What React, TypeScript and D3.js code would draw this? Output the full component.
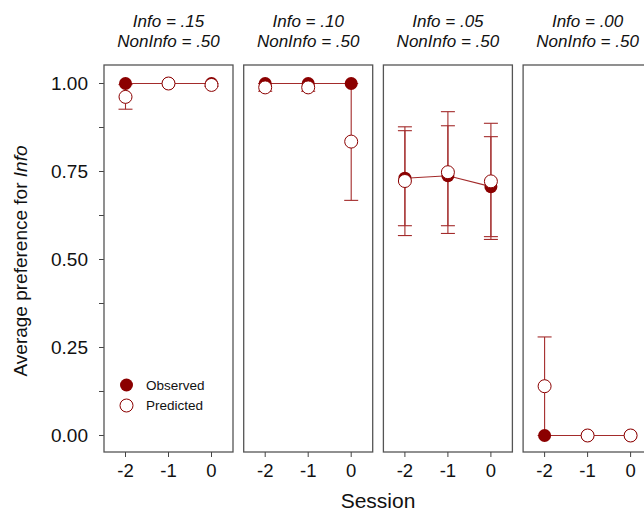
import React from "react";
import * as d3 from "d3";

const sessions = [-2, -1, 0];
const infoLabels = ["Info = .15", "Info = .10", "Info = .05", "Info = .00"];
const nonInfoLabels = ["NonInfo = .50", "NonInfo = .50", "NonInfo = .50", "NonInfo = .50"];

const observed = [
  [1.0, 1.0, 1.0],
  [1.0, 1.0, 1.0],
  [0.731, 0.738, 0.707],
  [0.0, 0.0, 0.0],
];
const observedLo = [
  [1.0, 1.0, 1.0],
  [1.0, 1.0, 1.0],
  [0.596, 0.596, 0.565],
  [0.0, 0.0, 0.0],
];
const observedHi = [
  [1.0, 1.0, 1.0],
  [1.0, 1.0, 1.0],
  [0.866, 0.88, 0.849],
  [0.0, 0.0, 0.0],
];
const predicted = [
  [0.962, 1.0, 0.996],
  [0.989, 0.989, 0.835],
  [0.723, 0.748, 0.722],
  [0.14, 0.0, 0.0],
];
const predictedLo = [
  [0.927, 1.0, 0.992],
  [0.978, 0.978, 0.668],
  [0.568, 0.574, 0.557],
  [0.0, 0.0, 0.0],
];
const predictedHi = [
  [0.997, 1.0, 1.0],
  [1.0, 1.0, 1.0],
  [0.877, 0.92, 0.887],
  [0.28, 0.0, 0.0],
];
const yTicks = [0, 0.125, 0.25, 0.375, 0.5, 0.625, 0.75, 0.875, 1.0];
const yLabels = ["0.00", "", "0.25", "", "0.50", "", "0.75", "", "1.00"];
const legendLabels = ["Observed", "Predicted"];

const W = 644;
const H = 512;
const FONT = "'Liberation Sans', Arial, sans-serif";
const RED = "#8b0000";
const LINE = "#a32b2b";
const panelLeft0 = 104;
const panelStep = 139.7;
const panelW = 129;
const top = 65;
const bottom = 452;

export default function App() {
  const y = d3.scaleLinear().domain([-0.0469, 1.0526]).range([bottom, top]);
  const x = d3.scaleLinear().domain([-2.5, 0.5]).range([0, panelW]);
  const line = d3
    .line<number>()
    .x((_, i) => x(sessions[i]))
    .y((d) => y(d));
  const r = 6.5;
  const cap = 7;

  const errBar = (xv: number, lo: number, hi: number, key: string) => {
    if (hi - lo < 1e-6) return null;
    const cx = x(xv);
    return (
      <g key={key} stroke={LINE} strokeWidth={1.1} fill="none">
        <line x1={cx} x2={cx} y1={y(lo)} y2={y(hi)} />
        <line x1={cx - cap} x2={cx + cap} y1={y(lo)} y2={y(lo)} />
        <line x1={cx - cap} x2={cx + cap} y1={y(hi)} y2={y(hi)} />
      </g>
    );
  };

  return (
    <svg
      width={W}
      height={H}
      style={{ position: "absolute", left: 0, top: 0, background: "#fff" }}
      fontFamily={FONT}
    >
      <rect width={W} height={H} fill="#fff" />
      {/* y axis */}
      <g>
        {yTicks.map((t, i) => (
          <g key={i}>
            <line x1={panelLeft0 - 5} x2={panelLeft0} y1={y(t)} y2={y(t)} stroke="#444" strokeWidth={1} />
            {yLabels[i] && (
              <text x={88} y={y(t)} dy="0.35em" textAnchor="end" fontSize={19} fill="#111">
                {yLabels[i]}
              </text>
            )}
          </g>
        ))}
        <text
          transform={`translate(27, ${261}) rotate(-90)`}
          textAnchor="middle"
          fontSize={19}
          fill="#111"
        >
          Average preference for <tspan fontStyle="italic">Info</tspan>
        </text>
      </g>
      {observed.map((obs, p) => {
        const left = panelLeft0 + p * panelStep;
        return (
          <g key={p} transform={`translate(${left},0)`}>
            <text x={panelW / 2} y={27} textAnchor="middle" fontSize={17} fontStyle="italic" fill="#111">
              {infoLabels[p]}
            </text>
            <text x={panelW / 2} y={47} textAnchor="middle" fontSize={17} fontStyle="italic" fill="#111">
              {nonInfoLabels[p]}
            </text>
            <rect x={0} y={top} width={panelW} height={bottom - top} fill="none" stroke="#555" strokeWidth={1.3} />
            {sessions.map((s, i) => (
              <g key={"xt" + i}>
                <line x1={x(s)} x2={x(s)} y1={bottom} y2={bottom + 5} stroke="#444" />
                <text x={x(s)} y={477} textAnchor="middle" fontSize={18.5} fill="#111">
                  {s}
                </text>
              </g>
            ))}
            {sessions.map((s, i) => errBar(s, observedLo[p][i], observedHi[p][i], "oe" + i))}
            {sessions.map((s, i) => errBar(s, predictedLo[p][i], predictedHi[p][i], "pe" + i))}
            <path d={line(obs) || ""} fill="none" stroke={LINE} strokeWidth={1.1} />
            {obs.map((v, i) => (
              <circle key={"o" + i} cx={x(sessions[i])} cy={y(v)} r={r} fill={RED} />
            ))}
            {predicted[p].map((v, i) => (
              <circle key={"p" + i} cx={x(sessions[i])} cy={y(v)} r={r} fill="#fff" stroke={RED} strokeWidth={1} />
            ))}
          </g>
        );
      })}
      {/* legend */}
      <g>
        <circle cx={126.5} cy={385} r={6.5} fill={RED} />
        <circle cx={126.5} cy={405.5} r={6.5} fill="#fff" stroke={RED} strokeWidth={1} />
        <text x={146} y={385} dy="0.35em" fontSize={13.5} fill="#111">
          {legendLabels[0]}
        </text>
        <text x={146} y={405.5} dy="0.35em" fontSize={13.5} fill="#111">
          {legendLabels[1]}
        </text>
      </g>
      <text x={378} y={508} textAnchor="middle" fontSize={21} fill="#111">
        Session
      </text>
    </svg>
  );
}
